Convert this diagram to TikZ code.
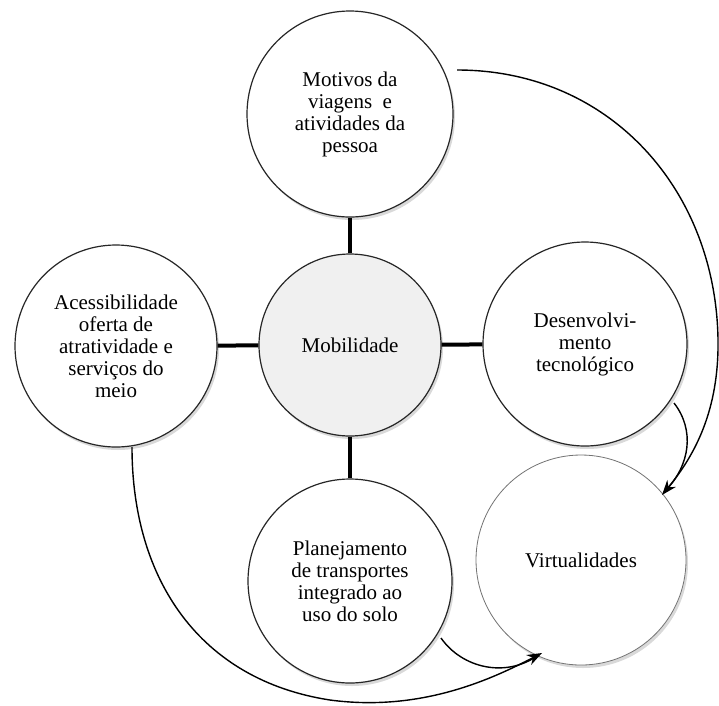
\documentclass[tikz,border=0pt]{standalone}
\usepackage{fontspec}
\setmainfont{LiberationSerif}[Extension=.ttf, UprightFont=*-Regular, BoldFont=*-Bold]
\usepackage{tikz}
\usetikzlibrary{arrows.meta,shapes,shadows,calc}

\begin{document}
\begin{tikzpicture}[x=1pt,y=-1pt,
        bubble/.style={circle, draw=black!85, line width=1.2pt, fill=white, inner sep=0pt,
            align=center, font=\fontsize{21}{22}\selectfont,
            drop shadow={shadow xshift=2pt, shadow yshift=-3pt, opacity=0.3}},
        spoke/.style={line width=4pt},
        flow/.style={line width=1.4pt},
        tip/.style={-{Stealth[length=15pt,width=11pt]}}]
                \path[use as bounding box] (0,0) rectangle (719,705);
                \node[bubble, minimum size=206pt] (motivos) at (350,114) {Motivos da\\viagens\ \ e\\atividades da\\pessoa};
                \node[bubble, minimum size=202pt] (acesso) at (116,346) {Acessibilidade\\oferta de\\atratividade e\\serviços do\\meio};
                \node[bubble, minimum size=182pt, fill=black!6] (mob) at (350,345) {Mobilidade};
                \node[bubble, minimum size=204pt] (tecno) at (585,344) {Desenvolvi-\\mento\\tecnológico};
                \node[bubble, minimum size=204pt] (plano) at (350,581) {Planejamento\\de transportes\\integrado ao\\uso do solo};
                \node[bubble, minimum size=210pt, draw=black!55, line width=0.8pt] (virt) at (581,560) {Virtualidades};
                \draw[spoke] (mob) -- (motivos);
                \draw[spoke] (mob) -- (acesso);
                \draw[spoke] (mob) -- (tecno);
                \draw[spoke] (mob) -- (plano);
                \coordinate (m1) at (457,70);
                \coordinate (t1) at (674,403);
                \coordinate (p1) at (441,638);
                \coordinate (a1) at (132,447);
                \coordinate (v1) at (662,495);
                \coordinate (v2) at (542,653);
                \draw[flow] (t1) .. controls (695,430) and (690,465) .. ($(v1)+(4,-5)$);
                \draw[flow, tip] (m1) .. controls (610,70) and (716,190) .. (718,340) .. controls (719,410) and (695,455) .. (v1);
                \draw[flow] (p1) .. controls (462,668) and (505,678) .. ($(v2)+(-5,3)$);
                \draw[flow, tip] (a1) .. controls (132,580) and (200,680) .. (330,700) .. controls (420,712) and (490,680) .. (v2);
            \end{tikzpicture}
\end{document}
